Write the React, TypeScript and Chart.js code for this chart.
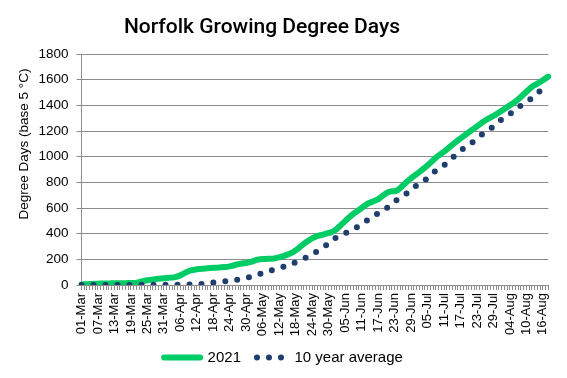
import { useEffect, useRef } from 'react';
import { Chart, registerables } from 'chart.js';

Chart.register(...registerables);

const TITLE = 'Norfolk Growing Degree Days';
const Y_TITLE = 'Degree Days (base 5 °C)';
const SERIES_2021_LABEL = '2021';
const SERIES_AVG_LABEL = '10 year average';

// Daily categories 01-Mar .. 18-Aug
const MONTHS = ['Mar', 'Apr', 'May', 'Jun', 'Jul', 'Aug'];
const MONTH_DAYS = [31, 30, 31, 30, 31, 18];
const LABEL_EVERY = 6;
const CATEGORIES: string[] = [];
MONTHS.forEach((m, i) => {
  for (let d = 1; d <= MONTH_DAYS[i]; d++) CATEGORIES.push(String(d).padStart(2, '0') + '-' + m);
});

const Y_MIN = 0;
const Y_MAX = 1800;
const Y_STEP = 200;

// Cumulative degree days, 2021 (one value per day)
const GDD_2021 = [
  3, 5, 6, 7, 8, 9, 10, 11, 11, 12,
  12, 13, 13, 13, 14, 14, 14, 15, 15, 16,
  18, 22, 28, 33, 37, 40, 43, 46, 48, 50,
  52, 54, 56, 58, 61, 66, 75, 87, 98, 108,
  115, 119, 122, 124, 126, 128, 131, 133, 134, 135,
  136, 138, 140, 142, 145, 150, 156, 162, 166, 169,
  172, 176, 182, 190, 197, 200, 202, 203, 204, 205,
  207, 211, 216, 222, 229, 237, 246, 256, 270, 286,
  304, 322, 337, 351, 364, 374, 382, 388, 393, 400,
  405, 412, 422, 438, 458, 478, 498, 518, 537, 555,
  570, 585, 600, 616, 631, 642, 650, 658, 668, 684,
  700, 716, 726, 731, 730, 738, 755, 775, 795, 815,
  832, 848, 864, 880, 897, 914, 932, 952, 972, 992,
  1008, 1024, 1040, 1056, 1074, 1092, 1110, 1126, 1142, 1158,
  1174, 1190, 1206, 1220, 1236, 1252, 1268, 1282, 1294, 1306,
  1318, 1330, 1344, 1358, 1372, 1386, 1400, 1414, 1430, 1448,
  1466, 1486, 1506, 1526, 1544, 1558, 1570, 1582, 1596, 1610,
  1624,
];

// Cumulative degree days, 10 year average (one value per day)
const GDD_10YR_AVG = [
  0, 0, 0, 0, 0, 0, 0, 0, 0, 0,
  0, 0, 0, 0, 0, 0, 0, 0, 0, 0,
  0, 1, 1, 1, 1, 1, 1, 1, 1, 1,
  1, 2, 2, 2, 2, 2, 2, 2, 2, 3,
  3, 4, 4, 5, 8, 11, 13, 16, 19, 21,
  24, 26, 29, 31, 34, 36, 39, 42, 46, 50,
  55, 60, 66, 72, 79, 86, 93, 100, 107, 114,
  120, 126, 132, 138, 145, 153, 161, 169, 178, 187,
  196, 205, 216, 228, 240, 252, 266, 280, 294, 308,
  322, 345, 360, 372, 382, 392, 403, 414, 425, 436,
  447, 461, 475, 489, 503, 517, 531, 545, 558, 571,
  584, 597, 615, 634, 652, 665, 679, 692, 706, 724,
  743, 761, 774, 788, 801, 815, 835, 855, 875, 889,
  903, 918, 932, 951, 970, 989, 1008, 1028, 1047, 1062,
  1076, 1091, 1106, 1124, 1143, 1161, 1175, 1190, 1204, 1218,
  1237, 1256, 1275, 1289, 1303, 1318, 1332, 1349, 1367, 1384,
  1398, 1412, 1425, 1439, 1458, 1477, 1496, 1511,
];

const GREEN = '#00cc66';
const BLUE = '#1f3e6e';
const GRID = '#8c8c8c';
const TEXT = '#000000';
const FONT = '"Liberation Sans", Arial, sans-serif';
const TITLE_FONT = 'Roboto, "Liberation Sans", Arial, sans-serif';

const textPlugin = {
  id: 'extraText',
  afterDraw(chart: any) {
    const { ctx, chartArea } = chart;
    ctx.save();
    ctx.fillStyle = TEXT;
    // chart title
    ctx.font = `500 21px ${TITLE_FONT}`;
    ctx.textAlign = 'center';
    ctx.textBaseline = 'alphabetic';
    ctx.fillText(TITLE, 262, 33);
    // y axis title
    ctx.translate(chartArea.left - 57, 144);
    ctx.rotate(-Math.PI / 2);
    ctx.font = `13.5px ${FONT}`;
    ctx.textBaseline = 'middle';
    ctx.fillText(Y_TITLE, 0, 0);
    ctx.restore();
  },
};

export default function App() {
  const ref = useRef<HTMLCanvasElement>(null);
  useEffect(() => {
    const chart = new Chart(ref.current as HTMLCanvasElement, {
      type: 'line',
      data: {
        labels: CATEGORIES,
        datasets: [
          {
            label: SERIES_2021_LABEL,
            data: GDD_2021,
            borderColor: GREEN,
            backgroundColor: GREEN,
            borderWidth: 6,
            borderCapStyle: 'round',
            borderJoinStyle: 'round',
            pointRadius: 0,
            tension: 0,
            order: 1,
          },
          {
            label: SERIES_AVG_LABEL,
            data: GDD_10YR_AVG,
            borderColor: BLUE,
            backgroundColor: BLUE,
            borderWidth: 6,
            borderDash: [0, 12],
            borderCapStyle: 'round',
            pointRadius: 0,
            tension: 0,
            order: 0,
          },
        ],
      },
      options: {
        responsive: false,
        animation: false,
        devicePixelRatio: 1,
        layout: { padding: { top: 54, bottom: 3, left: 0, right: 0 } },
        plugins: {
          title: { display: false },
          tooltip: { enabled: false },
          legend: {
            display: true,
            position: 'bottom',
            labels: {
              usePointStyle: true,
              pointStyleWidth: 36,
              boxHeight: 15,
              padding: 10,
              color: TEXT,
              font: { family: FONT, size: 15 },
              generateLabels: () => [
                {
                  text: SERIES_2021_LABEL,
                  fillStyle: GREEN,
                  strokeStyle: GREEN,
                  lineWidth: 6,
                  lineCap: 'round',
                  lineDash: [],
                  pointStyle: 'line',
                  datasetIndex: 0,
                  hidden: false,
                  fontColor: TEXT,
                } as any,
                {
                  text: SERIES_AVG_LABEL,
                  fillStyle: BLUE,
                  strokeStyle: BLUE,
                  lineWidth: 6,
                  lineCap: 'round',
                  lineDash: [0, 12],
                  lineDashOffset: -6,
                  pointStyle: 'line',
                  datasetIndex: 1,
                  hidden: false,
                  fontColor: TEXT,
                } as any,
              ],
            },
          },
        },
        scales: {
          x: {
            type: 'category',
            offset: false,
            grid: { display: true, drawOnChartArea: false, drawTicks: true, tickLength: 5, color: GRID },
            border: { display: true, color: GRID, width: 1 },
            ticks: {
              autoSkip: false,
              minRotation: 90,
              maxRotation: 90,
              padding: 3,
              color: TEXT,
              font: { family: FONT, size: 13 },
              callback: (_v: any, i: number) => (i % LABEL_EVERY === 0 ? CATEGORIES[i] : ''),
            },
            afterFit: (s: any) => {
              s.height = 55;
            },
          },
          y: {
            type: 'linear',
            min: Y_MIN,
            max: Y_MAX,
            grid: { color: GRID, tickLength: 5, lineWidth: 1 },
            border: { display: true, color: GRID, width: 1 },
            ticks: {
              stepSize: Y_STEP,
              padding: 8,
              color: TEXT,
              font: { family: FONT, size: 13.5 },
              callback: (v: any) => String(v),
            },
            afterFit: (s: any) => {
              s.width = 81.5;
            },
          },
          yRight: {
            type: 'linear',
            position: 'right',
            display: true,
            grid: { display: false, drawTicks: false },
            border: { display: false },
            ticks: { display: false },
            afterFit: (s: any) => {
              s.width = 14.5;
            },
          },
        },
      },
      plugins: [textPlugin],
    } as any);
    return () => chart.destroy();
  }, []);
  return (
    <div style={{ position: 'absolute', left: 0, top: 0, width: 567, height: 378 }}>
      <canvas ref={ref} width={567} height={378} style={{ display: 'block', width: 567, height: 378 }} />
    </div>
  );
}
